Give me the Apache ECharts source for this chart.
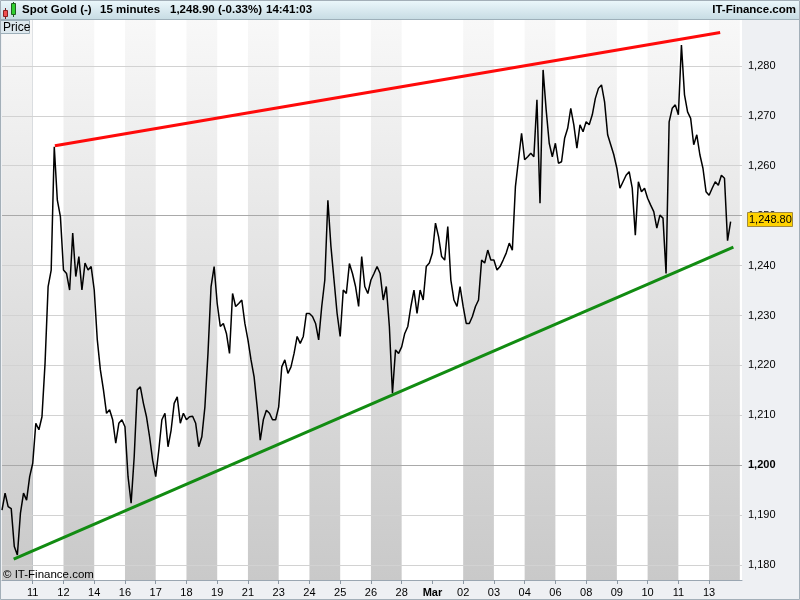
<!DOCTYPE html>
<html><head><meta charset="utf-8">
<script src="https://cdn.jsdelivr.net/npm/echarts@6/dist/echarts.min.js"></script>
<style>html,body{margin:0;padding:0;background:#fff}#c{width:800px;height:600px}</style>
</head><body><div id="c"></div>
<script>
// ---- data ----
const dayLabels = ['11','12','14','16','17','18','19','21','23','24','25','26','28','Mar','02','03','04','06','08','09','10','11','13'];
const dayTicks = dayLabels.map((_, i) => i);
const priceTicks = [1180,1190,1200,1210,1220,1230,1240,1250,1260,1270,1280];
const shadedDays = [-1,1,3,5,7,9,11,14,16,18,20,22];
const sampleStart = -1.0;   // day of first sample
const sampleStep = 0.1;     // days between samples
const prices = [
1191.0,1194.4,1191.7,1191.3,1183.7,1182.0,1190.4,1194.4,1193.0,1197.7,
1200.4,1208.4,1207.1,1209.7,1220.4,1235.8,1239.1,1263.8,1253.1,1249.8,
1239.1,1238.4,1235.1,1246.5,1237.8,1241.8,1235.1,1240.5,1239.1,1239.8,
1235.1,1225.1,1219.1,1215.1,1210.4,1211.1,1209.1,1204.4,1208.4,1209.1,
1207.7,1197.7,1192.4,1201.7,1215.1,1215.7,1212.4,1209.7,1205.7,1201.0,
1197.7,1203.0,1209.1,1210.4,1203.7,1207.0,1212.4,1213.7,1208.4,1210.4,
1209.1,1209.7,1209.8,1208.4,1203.7,1205.7,1211.7,1222.4,1235.8,1239.8,
1232.4,1227.8,1228.4,1226.4,1222.4,1234.4,1231.8,1232.4,1233.1,1228.4,
1225.1,1221.1,1217.7,1211.7,1205.0,1209.1,1211.0,1210.4,1209.1,1209.1,
1211.7,1219.7,1221.1,1218.4,1219.7,1222.4,1225.8,1224.4,1225.8,1230.4,
1230.4,1229.8,1228.4,1225.1,1231.8,1237.1,1253.1,1243.8,1237.1,1230.4,
1225.8,1235.1,1234.4,1240.4,1238.4,1235.8,1231.8,1241.8,1235.8,1234.4,
1237.1,1238.4,1239.8,1238.4,1233.1,1235.8,1227.8,1214.4,1223.1,1222.4,
1223.7,1226.4,1227.8,1231.8,1235.1,1230.4,1235.1,1233.1,1239.8,1240.5,
1242.5,1248.5,1245.8,1241.8,1241.1,1247.8,1237.1,1233.1,1231.8,1235.8,
1231.8,1228.4,1228.4,1229.8,1231.8,1233.1,1241.1,1240.5,1243.1,1241.1,
1241.1,1239.1,1239.8,1241.1,1242.5,1244.5,1243.1,1255.8,1261.2,1266.5,
1261.2,1261.8,1262.5,1261.8,1273.2,1252.5,1279.2,1271.2,1264.5,1261.8,
1264.5,1260.5,1260.8,1265.5,1267.5,1271.5,1268.2,1263.5,1268.2,1266.8,
1268.8,1268.2,1270.2,1273.5,1275.5,1276.2,1272.8,1266.2,1264.2,1262.2,
1259.5,1255.5,1256.8,1258.1,1258.8,1255.5,1246.1,1256.8,1254.8,1255.5,
1253.5,1252.1,1250.8,1247.5,1250.1,1249.5,1238.4,1268.8,1271.5,1272.2,
1270.2,1284.2,1274.2,1270.8,1269.5,1264.2,1266.2,1262.2,1259.5,1254.8,
1254.1,1255.5,1256.8,1256.1,1258.1,1257.5,1245.0,1248.8
];
const resistance = [[0.72, 1264.0], [22.36, 1286.7]];
const support = [[-0.62, 1181.2], [22.79, 1243.7]];
const lastPrice = 1248.80;
const titleParts = ['Spot Gold (-)', '15 minutes', '1,248.90 (-0.33%)', '14:41:03'];

// ---- chart ----
const FONT = '"Liberation Sans", Arial, sans-serif';
const chart = echarts.init(document.getElementById('c'), null, {renderer: 'canvas'});
const bandGrad = new echarts.graphic.LinearGradient(0, 0, 0, 1, [
  {offset: 0, color: '#f8f8f8'}, {offset: 1, color: '#c9c9c9'}]);
const fmtNum = v => v.toLocaleString('en-US');

const option = {
  animation: false,
  backgroundColor: '#eef0f3',
  grid: {left: 2, right: 58, top: 20, bottom: 20, show: true, backgroundColor: '#ffffff', borderWidth: 0},
  xAxis: {
    type: 'value', min: -1, max: 23.07, position: 'bottom',
    axisLine: {show: true, lineStyle: {color: '#9aa6b1', width: 1}},
    axisTick: {show: true, customValues: dayTicks, length: 4, lineStyle: {color: '#8c98a3'}},
    axisLabel: {
      customValues: dayTicks, margin: 7, color: '#000', fontSize: 11, fontFamily: FONT,
      formatter: v => { const t = dayLabels[Math.round(v)]; return t === 'Mar' ? '{b|Mar}' : t; },
      rich: {b: {fontWeight: 'bold', fontSize: 11, fontFamily: FONT, color: '#000'}}
    },
    splitLine: {show: false}
  },
  yAxis: {
    type: 'value', min: 1177, max: 1289.2, position: 'right', scale: true,
    axisLine: {show: true, lineStyle: {color: '#9aa6b1', width: 1}},
    axisTick: {show: true, customValues: priceTicks, length: 5, lineStyle: {color: '#8c98a3'}},
    axisLabel: {
      customValues: priceTicks, margin: 6, color: '#000', fontSize: 11, fontFamily: FONT,
      formatter: v => v === 1200 ? '{b|' + fmtNum(v) + '}' : fmtNum(v),
      rich: {b: {fontWeight: 'bold', fontSize: 11, fontFamily: FONT, color: '#000'}}
    },
    splitLine: {show: false}
  },
  series: [
    { // day bands
      type: 'line', z: 0, silent: true, data: [[sampleStart, prices[0]]],
      showSymbol: false, lineStyle: {opacity: 0},
      markArea: {silent: true, itemStyle: {color: bandGrad, opacity: 1},
        data: shadedDays.map(d => [{xAxis: d}, {xAxis: d + 1}])}
    },
    { // horizontal grid
      type: 'line', z: 1, silent: true, data: [[sampleStart, prices[0]]],
      showSymbol: false, lineStyle: {opacity: 0},
      markLine: {silent: true, symbol: 'none', label: {show: false},
        data: priceTicks.map(v => ({yAxis: v, lineStyle: {type: 'solid', width: 1,
          color: (v === 1250 || v === 1200) ? '#a9a9a9' : '#d2d2d2'}}))}
    },
    {
      name: 'Spot Gold', type: 'line', z: 5, silent: true, showSymbol: false,
      data: prices.map((p, i) => [sampleStart + i * sampleStep, p]),
      lineStyle: {color: '#000', width: 1.5}
    },
    {type: 'line', z: 6, silent: true, showSymbol: false, data: resistance,
      lineStyle: {color: '#ff0a0a', width: 3}},
    {type: 'line', z: 6, silent: true, showSymbol: false, data: support,
      lineStyle: {color: '#128c12', width: 3}}
  ]
};
chart.setOption(option);

const tagY = chart.convertToPixel({yAxisIndex: 0}, lastPrice);
const titleX = [22, 100, 170, 266];
const graphics = [
  {type: 'rect', z: 100, shape: {x: 0, y: 0, width: 800, height: 20},
    style: {fill: new echarts.graphic.LinearGradient(0, 0, 0, 1, [
      {offset: 0, color: '#ecf8fc'}, {offset: 1, color: '#c6dbe3'}])}},
  {type: 'line', z: 101, shape: {x1: 0, y1: 19.5, x2: 800, y2: 19.5}, style: {stroke: '#9eb0ba', lineWidth: 1}},
  // candle icon
  {type: 'line', z: 102, shape: {x1: 5.5, y1: 8, x2: 5.5, y2: 19}, style: {stroke: '#7a2020'}},
  {type: 'rect', z: 103, shape: {x: 3.5, y: 10.5, width: 4, height: 6}, style: {fill: '#f05050', stroke: '#8a2020'}},
  {type: 'line', z: 102, shape: {x1: 13.5, y1: 2, x2: 13.5, y2: 17}, style: {stroke: '#206020'}},
  {type: 'rect', z: 103, shape: {x: 11.5, y: 3.5, width: 4, height: 11}, style: {fill: '#30d030', stroke: '#206020'}},
  ...titleParts.map((t, i) => ({type: 'text', z: 102, x: titleX[i], y: 10,
    style: {text: t, font: 'bold 11.5px ' + FONT, fill: '#000', verticalAlign: 'middle'}})),
  {type: 'text', z: 102, x: 796, y: 10,
    style: {text: 'IT-Finance.com', font: 'bold 11.5px ' + FONT, fill: '#000', align: 'right', verticalAlign: 'middle'}},
  // Price box
  {type: 'rect', z: 100, shape: {x: 0.5, y: 20.5, width: 29, height: 13},
    style: {fill: '#dde8ee', stroke: '#9eb0ba', lineWidth: 1}},
  {type: 'text', z: 101, x: 3, y: 27.5, style: {text: 'Price', font: '12px ' + FONT, fill: '#000', verticalAlign: 'middle'}},
  // copyright
  {type: 'text', z: 100, x: 3, y: 574.5, style: {text: '\u00a9 IT-Finance.com', font: '11.5px ' + FONT, fill: '#000', verticalAlign: 'middle'}},
  // last price tag
  {type: 'rect', z: 110, shape: {x: 747.5, y: Math.round(tagY) - 9.5, width: 45, height: 14},
    style: {fill: '#ffd200', stroke: '#a08a40', lineWidth: 1}},
  {type: 'text', z: 111, x: 749, y: Math.round(tagY) - 2, style: {text: lastPrice.toFixed(2).replace(/^(\d)(\d{3})/, '$1,$2'), font: '11px ' + FONT, fill: '#000', verticalAlign: 'middle'}},
  // outer border
  {type: 'rect', z: 120, shape: {x: 0.5, y: 0.5, width: 799, height: 599},
    style: {fill: 'none', stroke: '#a3afb8', lineWidth: 1}}
];
chart.setOption({graphic: graphics});
</script></body></html>
